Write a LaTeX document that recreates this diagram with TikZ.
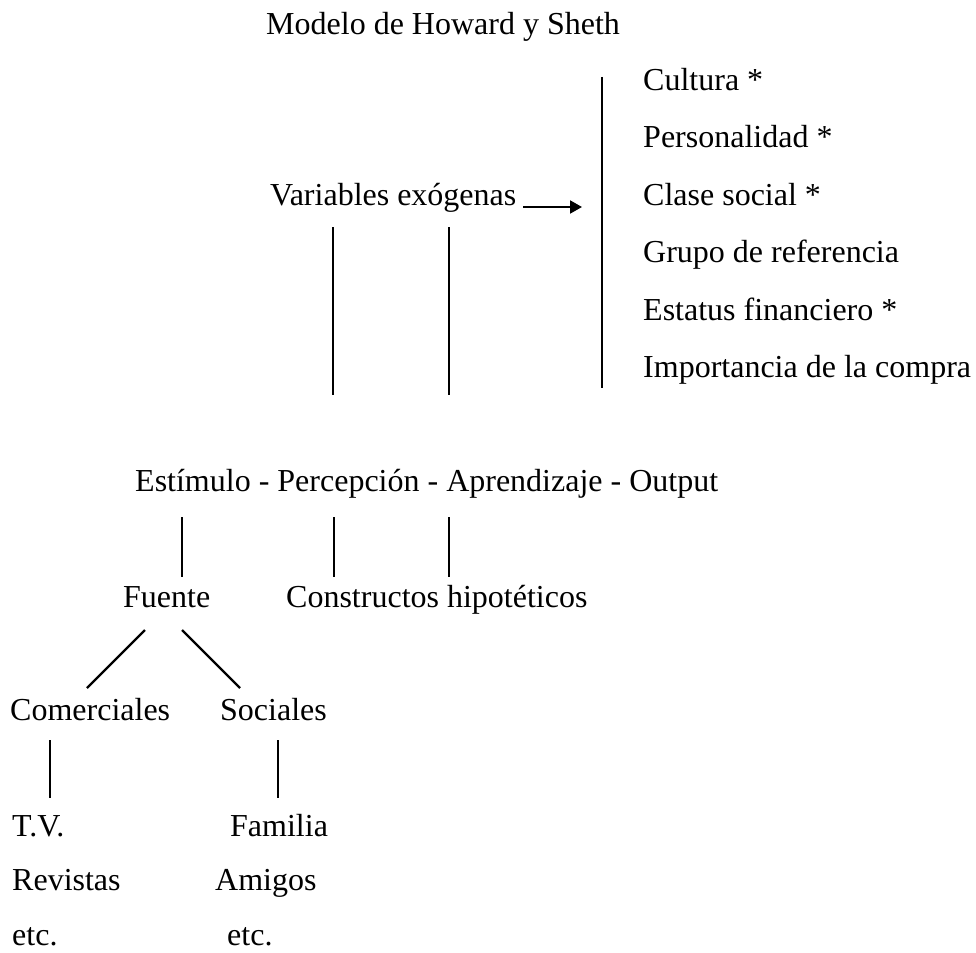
\documentclass[tikz,border=0pt]{standalone}
\usepackage{fontspec}
\setmainfont{Liberation Serif}
\usetikzlibrary{arrows.meta}
\begin{document}
\begin{tikzpicture}[x=1pt,y=-1pt,
  lbl/.style={anchor=base west,inner sep=0pt,font=\fontsize{32}{38}\selectfont},
  ln/.style={line width=2.4pt},
  arr/.style={line width=2pt,-{Triangle[length=12pt,width=13pt]}}]
\useasboundingbox[fill=white] (0,0) rectangle (976,952);
% title
\node[lbl] (title) at (266,35) {Modelo de Howard y Sheth};
% right list
\node[lbl] (cul) at (643,91) {Cultura *};
\node[lbl] (per) at (643,148) {Personalidad *};
\node[lbl] (cla) at (643,205) {Clase social *};
\node[lbl] (gru) at (643,262) {Grupo de referencia};
\node[lbl] (est) at (643,320) {Estatus financiero *};
\node[lbl] (imp) at (643,377) {Importancia de la compra};
\coordinate (barT) at (602,77);
\coordinate (barB) at (602,388);
\draw[ln] (barT) -- (barB);
% exogenous
\node[lbl] (var) at (270,205) {Variables exógenas};
\coordinate (arrS) at (523,207);
\coordinate (arrE) at (582,207);
\draw[arr] (arrS) -- (arrE);
\coordinate (v1T) at (333,227); \coordinate (v1B) at (333,395);
\coordinate (v2T) at (449,227); \coordinate (v2B) at (449,395);
\draw[ln] (v1T) -- (v1B);
\draw[ln] (v2T) -- (v2B);
% main row
\node[lbl] (main) at (135,491) {Estímulo - Percepción - Aprendizaje - Output};
\coordinate (m1T) at (182,517); \coordinate (m1B) at (182,577);
\coordinate (m2T) at (334,517); \coordinate (m2B) at (334,577);
\coordinate (m3T) at (449,517); \coordinate (m3B) at (449,577);
\draw[ln] (m1T) -- (m1B);
\draw[ln] (m2T) -- (m2B);
\draw[ln] (m3T) -- (m3B);
\node[lbl] (fue) at (123,607) {Fuente};
\node[lbl] (con) at (286,607) {Constructos hipotéticos};
% tree
\coordinate (dlT) at (145,630); \coordinate (dlB) at (87,688);
\coordinate (drT) at (182,630); \coordinate (drB) at (240,688);
\draw[ln] (dlT) -- (dlB);
\draw[ln] (drT) -- (drB);
\node[lbl] (com) at (10,720) {Comerciales};
\node[lbl] (soc) at (220,720) {Sociales};
\coordinate (clT) at (50,740); \coordinate (clB) at (50,798);
\coordinate (crT) at (278,740); \coordinate (crB) at (278,798);
\draw[ln] (clT) -- (clB);
\draw[ln] (crT) -- (crB);
\node[lbl] (tv) at (12,836) {T.V.};
\node[lbl] (rev) at (12,890) {Revistas};
\node[lbl] (etc1) at (12,945) {etc.};
\node[lbl] (fam) at (230,836) {Familia};
\node[lbl] (ami) at (215,890) {Amigos};
\node[lbl] (etc2) at (227,945) {etc.};
\end{tikzpicture}
\end{document}
